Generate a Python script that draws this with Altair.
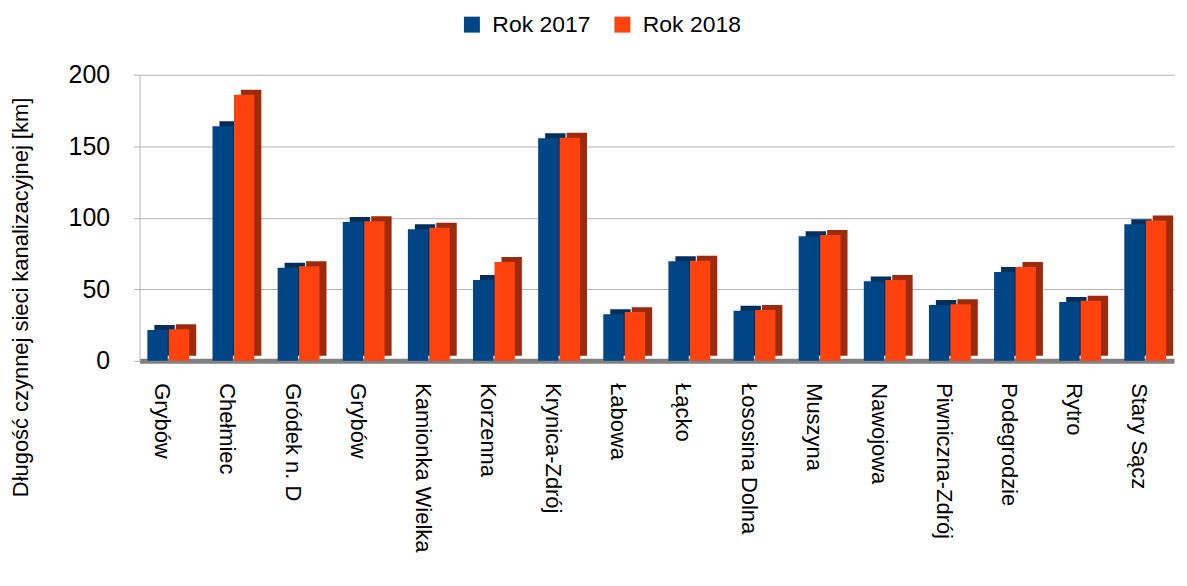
import json
import altair as alt
import pandas as pd

names = ["Grybów", "Chełmiec", "Gródek n. D", "Grybów", "Kamionka Wielka", "Korzenna",
         "Krynica-Zdrój", "Łabowa", "Łącko", "Łososina Dolna", "Muszyna", "Nawojowa",
         "Piwniczna-Zdrój", "Podegrodzie", "Rytro", "Stary Sącz"]
rok2017 = [21.5, 164, 65, 97, 92, 56.5, 155.5, 32.5, 69.5, 35, 87, 55.5, 39, 62, 41, 95.5]
rok2018 = [22, 186, 66, 97.5, 93, 69, 156, 34, 70, 35.5, 88, 56.5, 39.5, 65.5, 42, 98]
series = ["Rok 2017", "Rok 2018"]
colors = ["#004586", "#ff420e"]
side_colors = ["#002f5c", "#9c2a0c"]

rows = []
for i, n in enumerate(names):
    rows.append({"idx": i, "name": n, "series": series[0], "value": rok2017[i]})
    rows.append({"idx": i, "name": n, "series": series[1], "value": rok2018[i]})
df = pd.DataFrame(rows)

label_expr = json.dumps(names, ensure_ascii=False) + "[datum.value]"
FONT = "Liberation Sans"
W = 1038
N = len(names)
PI, PO = 0.357, 0.12
BAND = W / (N - PI + 2 * PO) * (1 - PI)

x_enc = alt.X("idx:O", title=None,
              scale=alt.Scale(paddingInner=PI, paddingOuter=PO),
              axis=alt.Axis(labelExpr=label_expr, labelAngle=90, labelAlign="left",
                            labelBaseline="middle", labelFontSize=22, labelColor="#000000",
                            labelFont=FONT, labelPadding=22, labelOffset=-6, ticks=False,
                            domainColor="#808080", domainWidth=5))
y_enc = alt.Y("value:Q", title="Długość czynnej sieci kanalizacyjnej [km]",
              scale=alt.Scale(domain=[0, 200]),
              axis=alt.Axis(values=[0, 50, 100, 150, 200], labelFontSize=25,
                            labelColor="#000000", labelFont=FONT, labelPadding=24,
                            tickSize=6, tickColor="#b3b3b3", domainColor="#b3b3b3",
                            gridColor="#b3b3b3", titleFont=FONT, titleFontSize=22,
                            titleFontWeight="normal", titleColor="#000000",
                            titleX=-107, titleY=223, titleAngle=-90))

base = alt.Chart(df)

side = base.mark_bar(yOffset=-5).encode(
    x=x_enc,
    xOffset=alt.XOffset("series:N", scale=alt.Scale(paddingInner=0.05, range=[7, BAND + 7])),
    y=y_enc,
    color=alt.Color("series:N", scale=alt.Scale(domain=series, range=side_colors),
                    legend=None),
)

front = base.mark_bar().encode(
    x=x_enc,
    xOffset=alt.XOffset("series:N", scale=alt.Scale(paddingInner=0.05, range=[0, BAND])),
    y=y_enc,
    color=alt.Color("series:N", scale=alt.Scale(domain=series, range=colors),
                    legend=alt.Legend(title=None, orient="none", direction="horizontal",
                                      legendX=322, legendY=-62, symbolType="square",
                                      symbolSize=256, symbolStrokeWidth=0,
                                      labelFontSize=23, labelFont=FONT, labelOffset=9,
                                      labelColor="#000000", columnPadding=20,
                                      symbolOpacity=1)),
)

chart = alt.layer(side, front).resolve_scale(color="independent", xOffset="independent").properties(
    width=W, height=287,
    autosize=alt.AutoSizeParams(type="none"),
    padding={"left": 132, "top": 66, "right": 5, "bottom": 200},
).configure_view(stroke=None).configure_axis(grid=True).configure_axisX(grid=False)

chart.save("out.html", embed_options={"renderer": "svg", "actions": False})
